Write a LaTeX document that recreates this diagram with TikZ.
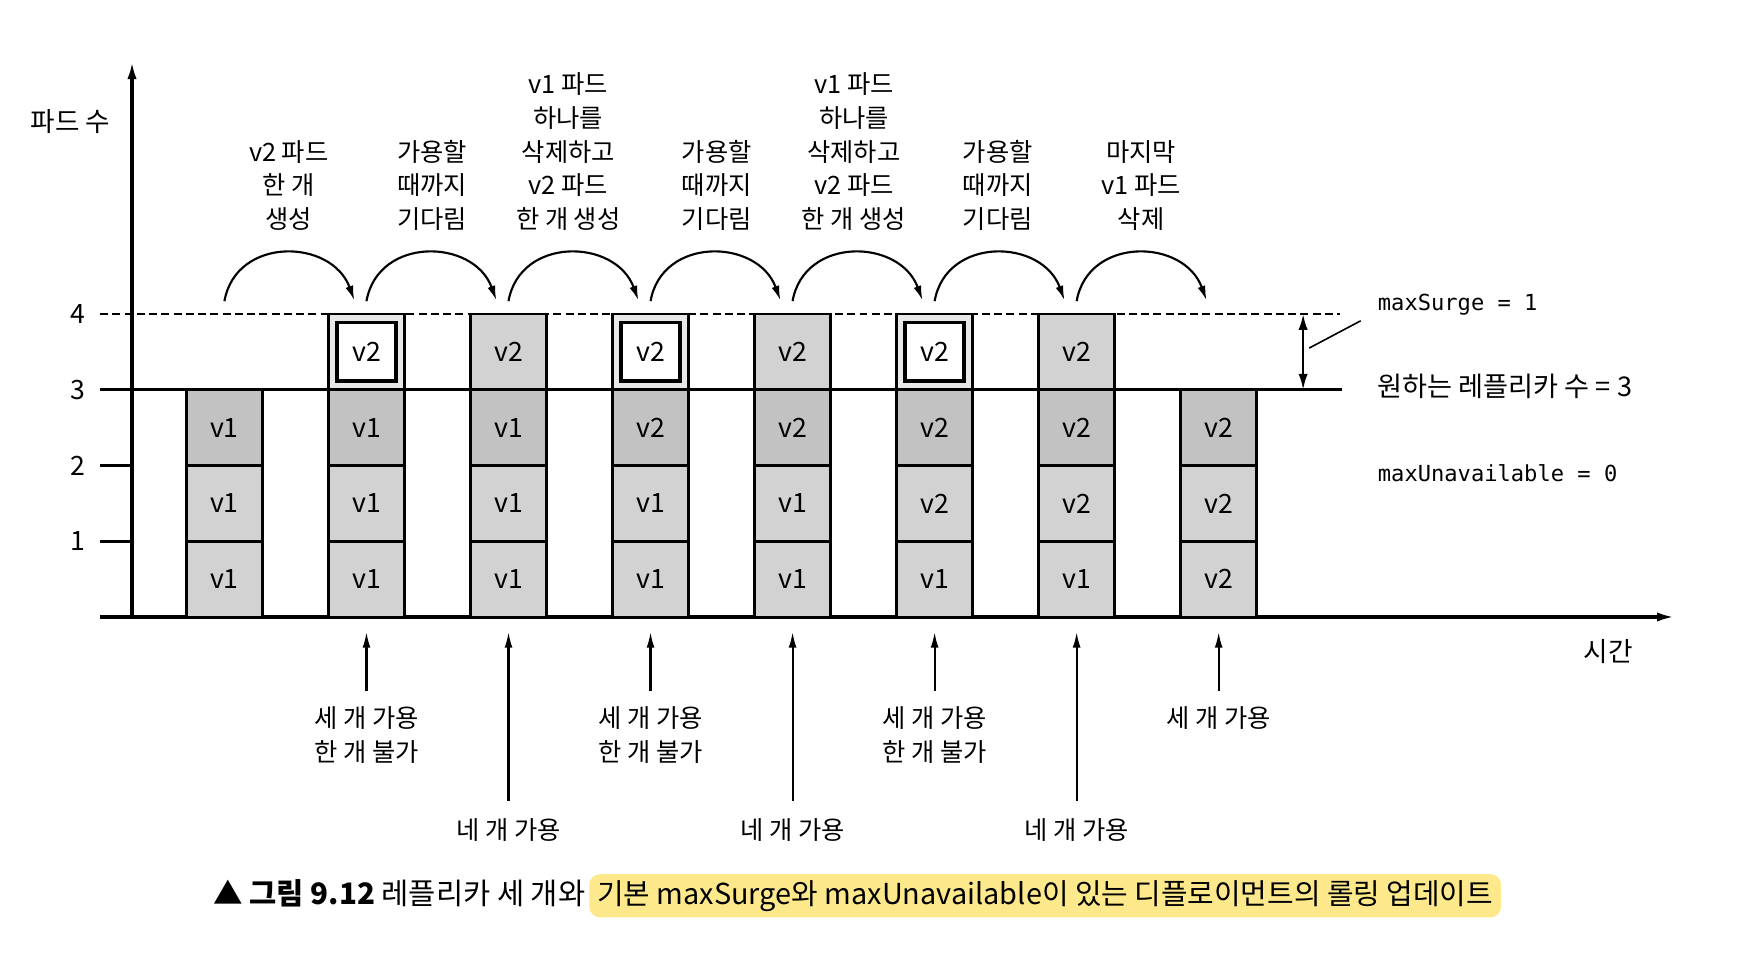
\documentclass[tikz,border=0pt]{standalone}
\usepackage{fontspec}
\newfontfamily\krfont{Noto Sans CJK KR}
\newfontfamily\codefont{DejaVu Sans Mono}
\usepackage{tikz}
\usetikzlibrary{positioning}
\usetikzlibrary{arrows.meta}
\definecolor{marker}{RGB}{253,233,140}
\tikzstyle{pod} = [rectangle, minimum width=1cm, minimum height=1cm, inner sep=0pt, line width=1.1pt, draw=black, fill=gray!35, font=\krfont\fontsize{10}{12}\selectfont]
\tikzstyle{podtop} = [pod, fill=gray!48]
\tikzstyle{podring} = [pod, fill=gray!18]
\tikzstyle{podnew} = [rectangle, minimum width=0.78cm, minimum height=0.77cm, inner sep=0pt, line width=1.3pt, draw=black, fill=white, font=\krfont\fontsize{10}{12}\selectfont]
\tikzstyle{steptext} = [anchor=south, inner sep=0pt, align=center, font=\krfont\fontsize{9.5}{12.6}\selectfont]
\tikzstyle{availtext} = [inner sep=0pt, align=center, font=\krfont\fontsize{9.5}{12.8}\selectfont]
\tikzstyle{note} = [anchor=west, inner sep=0pt, font=\krfont\fontsize{10.2}{12}\selectfont]
\tikzstyle{arrow} = [line width=0.8pt, -{Latex[length=6pt,width=3pt]}]
\tikzstyle{curve} = [line width=0.8pt, -{Latex[length=5.5pt,width=3pt]}]
\tikzstyle{axis} = [line width=1.2pt, -{Latex[length=6.5pt,width=3.5pt]}]

\begin{document}
\begin{tikzpicture}[node distance=1cm, font=\krfont\fontsize{10}{12}\selectfont]
	\useasboundingbox (-1.743,-4.634) rectangle (21.386,8.145);
	
	\coordinate (xStart) at (-0.42,0);
	\coordinate (xEnd) at (20.36,0);
	\coordinate (origin) at (0,0);
	\coordinate (yEnd) at (0,7.33);
	
	\draw [line width=0.8pt, dash pattern=on 3pt off 1.6pt] (-0.42,4) -- (15.95,4);
	\draw [line width=1.1pt] (-0.42,3) -- (15.97,3);
	\draw [line width=1.1pt] (-0.42,2) -- (0,2);
	\draw [line width=1.1pt] (-0.42,1) -- (0,1);
	
	\draw [axis] (xStart) -- (xEnd);
	\draw [axis] (origin) -- (yEnd);
	
	\node (tick1) at (-0.71,1) {1};
	\node (tick2) at (-0.71,2) {2};
	\node (tick3) at (-0.71,3) {3};
	\node (tick4) at (-0.71,4) {4};
	\node (yTitle) at (-0.81,6.54) {파드 수};
	\node (xTitle) at (19.49,-0.45) {시간};
	
	\node (bar0a) [pod] at (1.22,0.5) {v1};
	\node (bar0b) [pod, above of=bar0a] {v1};
	\node (bar0c) [podtop, above of=bar0b] {v1};
	
	\node (bar1a) [pod] at (3.095,0.5) {v1};
	\node (bar1b) [pod, above of=bar1a] {v1};
	\node (bar1c) [podtop, above of=bar1b] {v1};
	\node (bar1d) [podring, above of=bar1c] {};
	\node (new1) [podnew] at (bar1d) {v2};
	
	\node (bar2a) [pod] at (4.97,0.5) {v1};
	\node (bar2b) [pod, above of=bar2a] {v1};
	\node (bar2c) [podtop, above of=bar2b] {v1};
	\node (bar2d) [pod, above of=bar2c] {v2};
	
	\node (bar3a) [pod] at (6.845,0.5) {v1};
	\node (bar3b) [pod, above of=bar3a] {v1};
	\node (bar3c) [podtop, above of=bar3b] {v2};
	\node (bar3d) [podring, above of=bar3c] {};
	\node (new3) [podnew] at (bar3d) {v2};
	
	\node (bar4a) [pod] at (8.72,0.5) {v1};
	\node (bar4b) [pod, above of=bar4a] {v1};
	\node (bar4c) [podtop, above of=bar4b] {v2};
	\node (bar4d) [pod, above of=bar4c] {v2};
	
	\node (bar5a) [pod] at (10.595,0.5) {v1};
	\node (bar5b) [pod, above of=bar5a] {v2};
	\node (bar5c) [podtop, above of=bar5b] {v2};
	\node (bar5d) [podring, above of=bar5c] {};
	\node (new5) [podnew] at (bar5d) {v2};
	
	\node (bar6a) [pod] at (12.47,0.5) {v1};
	\node (bar6b) [pod, above of=bar6a] {v2};
	\node (bar6c) [podtop, above of=bar6b] {v2};
	\node (bar6d) [pod, above of=bar6c] {v2};
	
	\node (bar7a) [pod] at (14.345,0.5) {v2};
	\node (bar7b) [pod, above of=bar7a] {v2};
	\node (bar7c) [podtop, above of=bar7b] {v2};
	
	\draw [curve] ([yshift=1.15cm]bar0c.north) to [out=80, in=110, looseness=1.3] ([xshift=-0.16cm, yshift=0.16cm]bar1d.north);
	\draw [curve] ([yshift=0.15cm]bar1d.north) to [out=80, in=110, looseness=1.3] ([xshift=-0.16cm, yshift=0.16cm]bar2d.north);
	\draw [curve] ([yshift=0.15cm]bar2d.north) to [out=80, in=110, looseness=1.3] ([xshift=-0.16cm, yshift=0.16cm]bar3d.north);
	\draw [curve] ([yshift=0.15cm]bar3d.north) to [out=80, in=110, looseness=1.3] ([xshift=-0.16cm, yshift=0.16cm]bar4d.north);
	\draw [curve] ([yshift=0.15cm]bar4d.north) to [out=80, in=110, looseness=1.3] ([xshift=-0.16cm, yshift=0.16cm]bar5d.north);
	\draw [curve] ([yshift=0.15cm]bar5d.north) to [out=80, in=110, looseness=1.3] ([xshift=-0.16cm, yshift=0.16cm]bar6d.north);
	\draw [curve] ([yshift=0.15cm]bar6d.north) to [out=80, in=110, looseness=1.3] ([xshift=-0.16cm, yshift=1.16cm]bar7c.north);
	
	\node (createOne) [steptext] at (2.07,5.10) {v2 파드\\한 개\\생성};
	\node (waitOne) [steptext] at (3.96,5.10) {가용할\\때까지\\기다림};
	\node (swapOne) [steptext] at (5.76,5.10) {v1 파드\\하나를\\삭제하고\\v2 파드\\한 개 생성};
	\node (waitTwo) [steptext] at (7.72,5.10) {가용할\\때까지\\기다림};
	\node (swapTwo) [steptext] at (9.53,5.10) {v1 파드\\하나를\\삭제하고\\v2 파드\\한 개 생성};
	\node (waitThree) [steptext] at (11.43,5.10) {가용할\\때까지\\기다림};
	\node (deleteLast) [steptext] at (13.32,5.10) {마지막\\v1 파드\\삭제};
	
	\coordinate (tail1) at (3.095,-0.98);
	\coordinate (tail2) at (4.97,-2.43);
	\coordinate (tail3) at (6.845,-0.98);
	\coordinate (tail4) at (8.72,-2.43);
	\coordinate (tail5) at (10.595,-0.98);
	\coordinate (tail6) at (12.47,-2.43);
	\coordinate (tail7) at (14.345,-0.98);
	
	\draw [arrow] (tail1) -- ([yshift=-5pt]bar1a.south);
	\draw [arrow] (tail2) -- ([yshift=-5pt]bar2a.south);
	\draw [arrow] (tail3) -- ([yshift=-5pt]bar3a.south);
	\draw [arrow] (tail4) -- ([yshift=-5pt]bar4a.south);
	\draw [arrow] (tail5) -- ([yshift=-5pt]bar5a.south);
	\draw [arrow] (tail6) -- ([yshift=-5pt]bar6a.south);
	\draw [arrow] (tail7) -- ([yshift=-5pt]bar7a.south);
	
	\node (avail1) [availtext, below=0.2cm of tail1] {세 개 가용\\한 개 불가};
	\node (avail2) [availtext, below=0.23cm of tail2] {네 개 가용};
	\node (avail3) [availtext, below=0.2cm of tail3] {세 개 가용\\한 개 불가};
	\node (avail4) [availtext, below=0.23cm of tail4] {네 개 가용};
	\node (avail5) [availtext, below=0.2cm of tail5] {세 개 가용\\한 개 불가};
	\node (avail6) [availtext, below=0.23cm of tail6] {네 개 가용};
	\node (avail7) [availtext, below=0.2cm of tail7] {세 개 가용};
	
	\coordinate (surgeTop) at (15.46,4);
	\coordinate (surgeBot) at (15.46,3);
	\coordinate (leadFrom) at (15.54,3.55);
	\coordinate (leadTo) at (16.22,3.91);
	\draw [line width=0.8pt, {Latex[length=6pt,width=3.5pt]}-{Latex[length=6pt,width=3.5pt]}] (surgeTop) -- (surgeBot);
	\draw [line width=0.6pt] (leadFrom) -- (leadTo);
	
	\node (surge) [note] at (16.44,4.12) {\codefont\fontsize{8.3}{10}\selectfont maxSurge = 1};
	\node (desired) [note] at (16.44,3.04) {원하는 레플리카 수 = 3};
	\node (unavail) [note] at (16.44,1.90) {\codefont\fontsize{8.3}{10}\selectfont maxUnavailable = 0};
	
	\node (capMain) [anchor=west, fill=marker, rounded corners=4pt, inner xsep=3pt, inner ysep=0pt, minimum height=0.57cm, font=\krfont\fontsize{10.85}{12}\selectfont] at (6.03,-3.68) {기본 maxSurge와 maxUnavailable이 있는 디플로이먼트의 롤링 업데이트};
	\node (capHead) [base left=0.04cm of capMain, inner sep=0pt, font=\krfont\fontsize{11.1}{12}\selectfont] {\textbf{▲ 그림 9.12} 레플리카 세 개와};
\end{tikzpicture}
\end{document}
